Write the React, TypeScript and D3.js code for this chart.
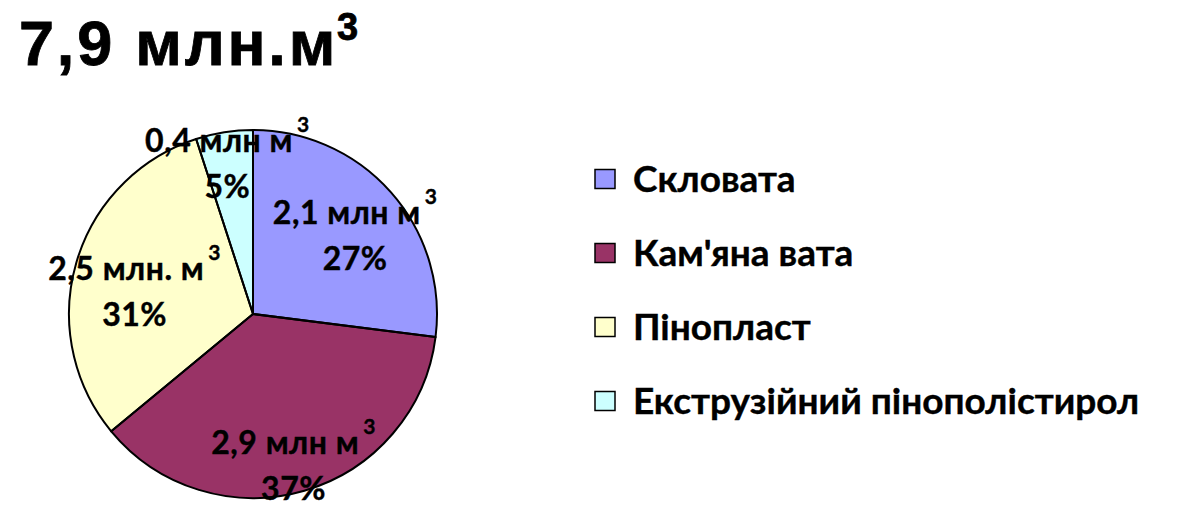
import React from "react";
import * as d3 from "d3";

const categories = ["Скловата", "Кам'яна вата", "Пінопласт", "Екструзійний пінополістирол"];
const shares = [27, 37, 31, 5];
const volumeLabels = ["2,1 млн м", "2,9 млн м", "2,5 млн. м", "0,4 млн м"];
const shareLabels = ["27%", "37%", "31%", "5%"];
const sliceColors = ["#9999FF", "#993366", "#FFFFCC", "#CCFFFF"];
const titleText = "7,9 млн.м";

const W = 1200;
const H = 529;
const cx = 253;
const cy = 314;
const R = 184;
const labelRadiusFactor = [0.74, 0.79, 0.67, 0.89];

export default function App() {
  const pie = d3.pie<number>().sort(null).value((d) => d).startAngle(0).endAngle(2 * Math.PI);
  const arcs = pie(shares);
  const arcGen = d3.arc<d3.PieArcDatum<number>>().innerRadius(0).outerRadius(R);
  const legendY = d3.scalePoint<number>().domain(d3.range(categories.length)).range([179, 401]);
  const labelFont = "Lato, 'Open Sans', sans-serif";

  return (
    <div style={{ position: "absolute", left: 0, top: 0 }}>
      <svg width={W} height={H} viewBox={`0 0 ${W} ${H}`} style={{ display: "block", background: "#fff" }}>
        <rect x={0} y={0} width={W} height={H} fill="#fff" />
        <text x={19} y={65} fontFamily="'Liberation Sans', Arial, sans-serif" fontWeight="bold" fontSize={63} letterSpacing={2.8} fill="#000" stroke="#000" strokeWidth={0.8}>
          {titleText}
          <tspan fontSize={38} dy={-25} dx={-1} letterSpacing={0}>3</tspan>
        </text>
        <g transform={`translate(${cx},${cy})`}>
          {arcs.map((a, i) => (
            <path key={"f" + i} d={arcGen(a) || ""} fill={sliceColors[i]} stroke="none" />
          ))}
          {arcs.map((a, i) => {
            const ang = (a.startAngle + a.endAngle) / 2;
            const r = R * labelRadiusFactor[i];
            const x = r * Math.sin(ang);
            const y = -r * Math.cos(ang);
            return (
              <g key={"l" + i} fontFamily={labelFont} fontWeight="bold" fill="#000" textAnchor="middle" stroke="#000" strokeWidth={0.4}>
                <text x={x} y={y} fontSize={32} letterSpacing={0.5}>
                  {volumeLabels[i]}
                  <tspan fontSize={21} dy={-20} dx={4}>3</tspan>
                </text>
                <text x={x} y={y + 46} fontSize={32} letterSpacing={0.5}>
                  {shareLabels[i]}
                </text>
              </g>
            );
          })}
          {arcs.map((a, i) => (
            <path key={"s" + i} d={arcGen(a) || ""} fill="none" stroke="#000" strokeWidth={2} strokeLinejoin="round" />
          ))}
        </g>
        <g>
          {categories.map((c, i) => {
            const y = legendY(i) as number;
            return (
              <g key={"lg" + i}>
                <rect x={595} y={y - 9.5} width={20} height={19} fill={sliceColors[i]} stroke="#000" strokeWidth={1.5} />
                <text x={633} y={y + 13} fontFamily={labelFont} fontWeight="bold" fontSize={37} fill="#000" stroke="#000" strokeWidth={0.4}>
                  {c}
                </text>
              </g>
            );
          })}
        </g>
      </svg>
    </div>
  );
}
